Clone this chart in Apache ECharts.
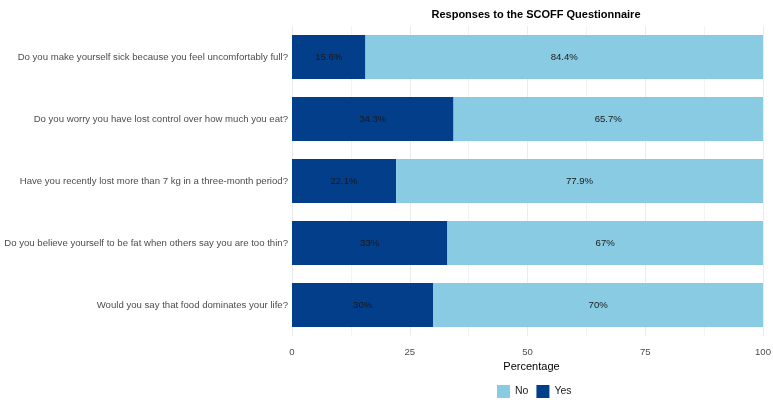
<!DOCTYPE html>
<html>
<head>
<meta charset="utf-8">
<script src="https://cdn.jsdelivr.net/npm/echarts@6/dist/echarts.min.js"></script>
<style>
  html, body { margin: 0; padding: 0; background: #fff; }
  #chart { width: 773px; height: 402px; }
</style>
</head>
<body>
<div id="chart"></div>
<script>
var questions = [
    "Do you make yourself sick because you feel uncomfortably full?",
    "Do you worry you have lost control over how much you eat?",
    "Have you recently lost more than 7 kg in a three-month period?",
    "Do you believe yourself to be fat when others say you are too thin?",
    "Would you say that food dominates your life?"
];
var yesPct = [15.6, 34.3, 22.1, 33, 30];
var noPct = [84.4, 65.7, 77.9, 67, 70];
var xTicks = [0, 25, 50, 75, 100];

var fontName = "Liberation Sans";
var chart = echarts.init(document.getElementById("chart"));

function barLabel() {
    return {
        show: true,
        position: 'inside',
        color: '#1a1a1a',
        fontSize: 9.6,
        fontFamily: fontName,
        textBorderWidth: 0,
        formatter: '{c}%'
    };
}

var option = {
    animation: false,
    title: {
        text: 'Responses to the SCOFF Questionnaire',
        left: 531,
        textAlign: 'center',
        top: 4,
        textStyle: { fontSize: 11, fontWeight: 'bold', color: '#000', fontFamily: fontName }
    },
    legend: {
        data: ['No', 'Yes'],
        bottom: 4,
        left: 497,
        padding: 0,
        itemWidth: 13,
        itemHeight: 13,
        itemGap: 8,
        icon: 'rect',
        textStyle: { fontSize: 10.5, color: '#1a1a1a', fontFamily: fontName }
    },
    grid: {
        left: 292,
        right: 10,
        top: 26,
        bottom: 66,
        containLabel: false,
        outerBoundsMode: 'none'
    },
    xAxis: {
        type: 'value',
        min: 0,
        max: 100,
        interval: 25,
        name: 'Percentage',
        nameLocation: 'middle',
        nameGap: 21,
        nameTextStyle: { fontSize: 11, color: '#000', fontFamily: fontName, padding: [0, 0, 0, 8] },
        axisLine: { show: false },
        axisTick: { show: false },
        axisLabel: {
            margin: 11,
            fontSize: 9.6,
            color: '#4d4d4d',
            fontFamily: fontName,
            formatter: function (v) { return xTicks.indexOf(v) >= 0 ? String(v) : ''; }
        },
        splitLine: { show: true, lineStyle: { color: '#ebebeb', width: 1 } },
        minorTick: { show: false, splitNumber: 2 },
        minorSplitLine: { show: true, lineStyle: { color: '#f3f3f3', width: 1 } }
    },
    yAxis: {
        type: 'category',
        inverse: true,
        data: questions,
        axisLine: { show: false },
        axisTick: { show: false },
        axisLabel: {
            margin: 4,
            fontSize: 9.6,
            color: '#4d4d4d',
            fontFamily: fontName
        },
        splitLine: { show: false }
    },
    series: [
        {
            name: 'Yes',
            type: 'bar',
            stack: 'total',
            barWidth: 44,
            data: yesPct,
            itemStyle: { color: '#023e8a' },
            label: barLabel()
        },
        {
            name: 'No',
            type: 'bar',
            stack: 'total',
            barWidth: 44,
            data: noPct,
            itemStyle: { color: '#89cbe3' },
            label: barLabel()
        }
    ]
};
chart.setOption(option);
</script>
</body>
</html>
